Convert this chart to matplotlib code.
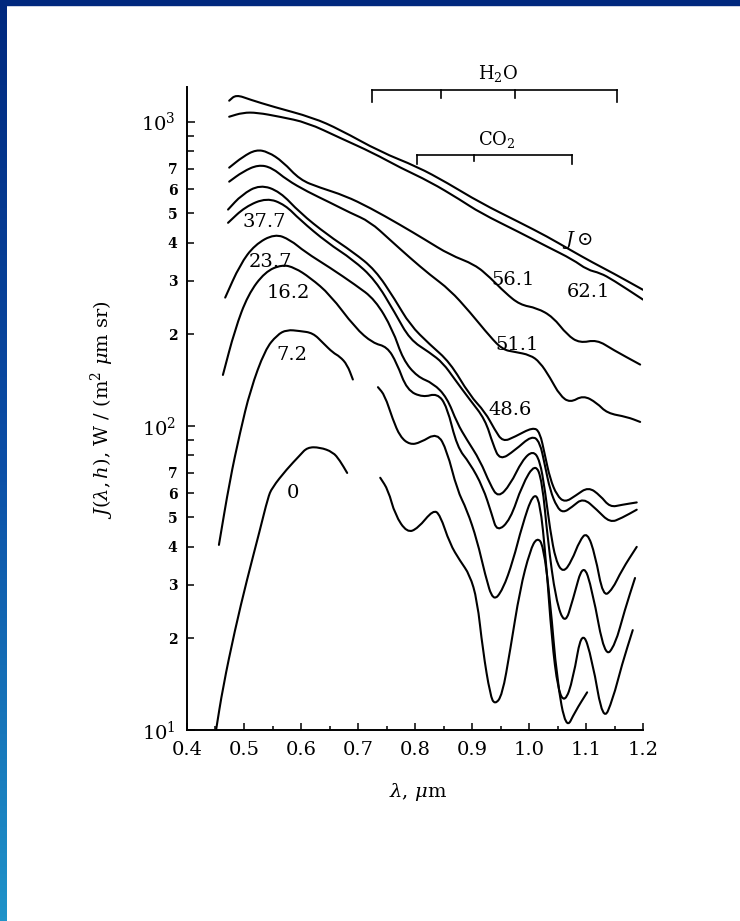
import numpy as np
import matplotlib.pyplot as plt
from matplotlib.colors import LinearSegmentedColormap
from matplotlib.patches import Rectangle, PathPatch
from matplotlib.path import Path

plt.rcParams['font.family'] = 'DejaVu Serif'
plt.rcParams['mathtext.fontset'] = 'dejavuserif'

# wavelength (um) and radiance J for each altitude (km)
x_sun = [0.474, 0.486, 0.511, 0.551, 0.621, 0.668, 0.739, 0.804, 0.856, 0.914, 0.984, 1.032, 1.072, 1.112, 1.147, 1.200]
j_sun = [1172, 1227, 1181, 1120, 1031, 942, 796, 711, 630, 542, 466, 419, 379, 344, 318, 280]

x_621 = [0.474, 0.498, 0.523, 0.563, 0.611, 0.668, 0.726, 0.774, 0.826, 0.879, 0.914, 0.984, 1.032, 1.077, 1.102, 1.125, 1.147, 1.200]
j_621 = [1038, 1071, 1071, 1038, 993, 885, 790, 706, 635, 554, 502, 432, 388, 352, 326, 318, 302, 260]

x_561 = [0.474, 0.498, 0.521, 0.542, 0.568, 0.598, 0.633, 0.677, 0.721, 0.774, 0.818, 0.861, 0.905, 0.932, 0.958, 0.984, 1.014, 1.042, 1.067, 1.089, 1.119, 1.147, 1.195]
j_561 = [706, 767, 809, 796, 739, 644, 607, 571, 521, 458, 409, 365, 339, 307, 274, 250, 244, 228, 199, 187, 192, 178, 159]

x_511 = [0.474, 0.498, 0.525, 0.549, 0.575, 0.611, 0.651, 0.686, 0.721, 0.756, 0.791, 0.826, 0.861, 0.896, 0.932, 0.954, 0.975, 1.002, 1.019, 1.037, 1.054, 1.072, 1.095, 1.119, 1.137, 1.172, 1.195]
j_511 = [635, 685, 722, 706, 644, 589, 542, 502, 469, 409, 357, 314, 280, 237, 196, 178, 175, 171, 162, 144, 126, 119, 126, 119, 110, 107, 103]

x_486 = [0.472, 0.496, 0.528, 0.563, 0.598, 0.646, 0.691, 0.730, 0.765, 0.791, 0.826, 0.861, 0.896, 0.923, 0.940, 0.954, 0.975, 1.007, 1.019, 1.028, 1.037, 1.049, 1.063, 1.082, 1.104, 1.125, 1.142, 1.163, 1.189]
j_486 = [514, 575, 621, 589, 502, 425, 373, 326, 260, 215, 185, 162, 126, 111, 97, 88.6, 92, 99, 95.5, 80, 67, 59, 56, 59, 63, 59, 54, 55, 56]

x_377 = [0.472, 0.502, 0.540, 0.572, 0.598, 0.646, 0.691, 0.730, 0.765, 0.791, 0.826, 0.849, 0.870, 0.896, 0.923, 0.937, 0.949, 0.975, 1.005, 1.019, 1.028, 1.037, 1.049, 1.060, 1.075, 1.095, 1.119, 1.142, 1.163, 1.189]
j_377 = [465, 525, 562, 533, 476, 400, 352, 302, 235, 192, 174, 161, 142, 122, 105, 86.7, 77, 83, 93, 88.6, 74, 61.5, 54, 51.8, 54, 58, 53, 48, 49.8, 53]

x_237 = [0.467, 0.493, 0.519, 0.554, 0.581, 0.607, 0.651, 0.695, 0.730, 0.761, 0.779, 0.804, 0.832, 0.856, 0.874, 0.891, 0.914, 0.932, 0.946, 0.967, 0.988, 1.007, 1.019, 1.028, 1.037, 1.047, 1.060, 1.075, 1.089, 1.102, 1.116, 1.130, 1.146, 1.163, 1.189]
j_237 = [264, 339, 394, 428, 409, 373, 331, 291, 260, 207, 165, 145, 138, 124, 102, 90, 77, 64, 58, 64, 77, 83, 77, 61.5, 45.5, 36, 32.8, 36, 42, 44.8, 37.7, 27.4, 28.9, 33.6, 40]

x_162 = [0.463, 0.484, 0.507, 0.537, 0.567, 0.589, 0.616, 0.651, 0.695, 0.726, 0.751, 0.768, 0.786, 0.814, 0.839, 0.856, 0.874, 0.896, 0.919, 0.935, 0.944, 0.967, 0.988, 1.011, 1.023, 1.033, 1.047, 1.063, 1.077, 1.095, 1.111, 1.133, 1.151, 1.168, 1.186]
j_162 = [147, 207, 270, 321, 339, 331, 307, 270, 210, 187, 182, 161, 131, 124, 128, 116, 85, 75.5, 63, 51, 44.8, 49, 64, 75.5, 66, 42, 26.8, 22.1, 26.8, 35.7, 28.9, 17.3, 19, 24.8, 31.6]

# 7.2 km and ground level curves have a gap around the O2 band
x_72a = [0.456, 0.475, 0.493, 0.511, 0.537, 0.558, 0.575, 0.598, 0.621, 0.639, 0.656, 0.668, 0.681, 0.691]
j_72a = [40.6, 66, 95, 131, 178, 199, 207, 205, 202, 187, 174, 169, 159, 142]
x_72b = [0.735, 0.747, 0.761, 0.774, 0.791, 0.809, 0.839, 0.856, 0.874, 0.891, 0.909, 0.923, 0.937, 0.954, 0.972, 0.988, 1.007, 1.019, 1.030, 1.040, 1.051, 1.063, 1.077, 1.093, 1.111, 1.130, 1.147, 1.163, 1.182]
j_72b = [134, 126, 105, 92, 86.7, 88, 95, 83, 61.5, 53, 42, 32.4, 26.4, 28.9, 36, 47, 60, 57, 36, 19.8, 13.5, 12.3, 14.6, 21.7, 17, 10.6, 12.6, 16.4, 21.3]

x_0a = [0.451, 0.463, 0.484, 0.505, 0.528, 0.542, 0.549, 0.575, 0.598, 0.611, 0.633, 0.656, 0.668, 0.681]
j_0a = [10, 13.8, 21.3, 31.1, 45.5, 58, 62.5, 72, 80, 85, 85, 82, 77, 70]
x_0b = [0.739, 0.753, 0.765, 0.786, 0.805, 0.832, 0.844, 0.861, 0.879, 0.896, 0.909, 0.919, 0.932, 0.940, 0.953, 0.967, 0.984, 1.002, 1.014, 1.025, 1.037, 1.049, 1.065, 1.081, 1.102]
j_0b = [67.5, 61.5, 51, 44.5, 46, 53, 51, 41, 36, 32.4, 26.8, 18.3, 13, 12.1, 13, 18.3, 28.9, 39, 43, 40.6, 26.8, 14.6, 10, 11.5, 13.3]

# altitude labels
alt_labels = ['62.1', '56.1', '51.1', '48.6', '37.7', '23.7', '16.2', '7.2', '0']
alt_x = [1.105, 0.972, 0.979, 0.967, 0.535, 0.546, 0.577, 0.584, 0.586]
alt_y = [276, 302, 185, 113, 469, 346, 274, 171, 60]

# absorption band markers
h2o_x = [0.725, 0.845, 0.975, 1.155]
co2_x = [0.804, 0.904, 1.075]

xticks = [0.4, 0.5, 0.6, 0.7, 0.8, 0.9, 1.0, 1.1, 1.2]
xtick_labels = ['0.4', '0.5', '0.6', '0.7', '0.8', '0.9', '1.0', '1.1', '1.2']
yticks = [10, 100, 1000]
ytick_labels = [r'$10^1$', r'$10^2$', r'$10^3$']
yminor = [20, 30, 40, 50, 60, 70, 80, 90, 200, 300, 400, 500, 600, 700, 800, 900]
yminor_labels = ['2', '3', '4', '5', '6', '7', '', '', '2', '3', '4', '5', '6', '7', '', '']


def smooth_curve(ax, xs, ys):
    # pen-drawn look: quadratic segments through the midpoints (midpoints taken in log y)
    px = np.asarray(xs, float)
    py = np.asarray(ys, float)
    mx = (px[:-1] + px[1:]) / 2
    my = np.sqrt(py[:-1] * py[1:])
    verts = [(px[0], py[0]), (mx[0], my[0])]
    codes = [Path.MOVETO, Path.LINETO]
    for i in range(1, len(px) - 1):
        verts += [(px[i], py[i]), (mx[i], my[i])]
        codes += [Path.CURVE3, Path.CURVE3]
    verts.append((px[-1], py[-1]))
    codes.append(Path.LINETO)
    ax.add_patch(PathPatch(Path(verts, codes), facecolor='none', edgecolor='black',
                           lw=1.5, joinstyle='round', capstyle='round'))


fig = plt.figure(figsize=(7.4, 9.21), dpi=100)
ax = fig.add_axes([187/740, 1 - 730/921, 456/740, 643/921])
ax.set_yscale('log')
ax.set_xlim(0.4, 1.2)
ax.set_ylim(10, 1300)

curves = [(x_sun, j_sun), (x_621, j_621), (x_561, j_561), (x_511, j_511),
          (x_486, j_486), (x_377, j_377), (x_237, j_237), (x_162, j_162),
          (x_72a, j_72a), (x_72b, j_72b), (x_0a, j_0a), (x_0b, j_0b)]
for xs, ys in curves:
    smooth_curve(ax, xs, ys)

for s in ['top', 'right']:
    ax.spines[s].set_visible(False)
for s in ['left', 'bottom']:
    ax.spines[s].set_linewidth(1.4)

ax.set_xticks(xticks, xtick_labels)
ax.set_xticks(np.arange(0.45, 1.2, 0.1), minor=True)
ax.set_yticks(yticks, ytick_labels)
ax.set_yticks(yminor, yminor_labels, minor=True)
ax.tick_params(which='both', direction='in', width=1.1)
ax.tick_params(axis='x', which='major', length=5, labelsize=14, pad=8)
ax.tick_params(axis='x', which='minor', length=3)
ax.tick_params(axis='y', which='major', length=6, labelsize=14, pad=8)
ax.tick_params(axis='y', which='minor', length=5, labelsize=10, pad=7)
for lab in ax.get_yticklabels(minor=True):
    lab.set_fontweight('bold')

for t, lx, ly in zip(alt_labels, alt_x, alt_y):
    ax.text(lx, ly, t, fontsize=14, ha='center', va='center')
ax.text(1.086, 409, r'$J\odot$', fontsize=14, ha='center', va='center')

# band brackets
kw = dict(color='black', lw=1.2, clip_on=False)
ax.plot([h2o_x[0], h2o_x[-1]], [1274, 1274], **kw)
for i, hx in enumerate(h2o_x):
    ax.plot([hx, hx], [1274, 1164 if i in (0, 3) else 1195], **kw)
ax.text(0.946, 1440, r'H$_2$O', fontsize=13, ha='center', va='center')
ax.plot([co2_x[0], co2_x[-1]], [778, 778], **kw)
for i, cx in enumerate(co2_x):
    ax.plot([cx, cx], [778, 725 if i != 1 else 740], **kw)
ax.text(0.944, 873, r'CO$_2$', fontsize=13, ha='center', va='center')

fig.text(102/740, 1 - 410/921, r'$J(\lambda,h)$, W / (m$^2$ $\mu$m sr)',
         rotation=90, fontsize=14, ha='center', va='center')
fig.text(418/740, 1 - 792/921, r'$\lambda$, $\mu$m', fontsize=14, ha='center', va='center')

# blue slide frame
cmap = LinearSegmentedColormap.from_list('edge', ['#00287e', '#0b4ea6', '#1f93c9'])
bax = fig.add_axes([0, 0, 7/740, 1])
bax.imshow(np.linspace(0, 1, 256).reshape(-1, 1), aspect='auto', cmap=cmap)
bax.axis('off')
fig.patches.append(Rectangle((0, 1 - 5/921), 1, 5/921, transform=fig.transFigure,
                             color='#00287e', zorder=5))

fig.savefig('out.png', dpi=100)
